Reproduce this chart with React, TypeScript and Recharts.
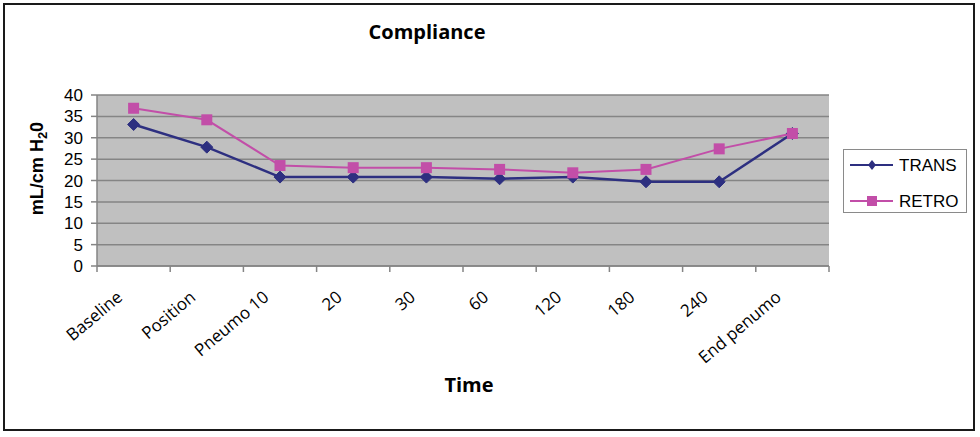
import React from "react";
import {
  LineChart,
  Line,
  XAxis,
  YAxis,
  CartesianGrid,
  Legend,
} from "recharts";

const categories = [
  "Baseline",
  "Position",
  "Pneumo 10",
  "20",
  "30",
  "60",
  "120",
  "180",
  "240",
  "End penumo",
];
const transValues = [33.1, 27.8, 20.8, 20.8, 20.8, 20.4, 20.8, 19.7, 19.7, 31.0];
const retroValues = [36.9, 34.2, 23.5, 23.0, 23.0, 22.6, 21.8, 22.6, 27.4, 31.0];
const yTicks = [0, 5, 10, 15, 20, 25, 30, 35, 40];

const data = categories.map((c, i) => ({
  name: c,
  TRANS: transValues[i],
  RETRO: retroValues[i],
}));

const W = 980;
const H = 437;
const PLOT_LEFT = 97;
const PLOT_RIGHT = 829;
const PLOT_TOP = 95;
const PLOT_BOTTOM = 266;
const HALF_BAND = (PLOT_RIGHT - PLOT_LEFT) / categories.length / 2;

const TRANS_COLOR = "#2D2F80";
const RETRO_COLOR = "#C24EA8";
const GRID_COLOR = "#858585";

const Diamond = (props: any) => {
  const { cx, cy } = props;
  if (cx == null || cy == null) return null;
  const r = 6;
  return (
    <path
      d={`M${cx},${cy - r} L${cx + r},${cy} L${cx},${cy + r} L${cx - r},${cy} Z`}
      fill={TRANS_COLOR}
      stroke={TRANS_COLOR}
    />
  );
};

const Square = (props: any) => {
  const { cx, cy } = props;
  if (cx == null || cy == null) return null;
  const r = 5.5;
  return (
    <rect x={cx - r} y={cy - r} width={r * 2} height={r * 2} fill={RETRO_COLOR} />
  );
};

const XTick = (props: any) => {
  const { x, y, payload, index } = props;
  const ax = x - 10;
  const ay = y + 33;
  const isLast = index === categories.length - 1;
  return (
    <g>
      <line x1={x - HALF_BAND} y1={y} x2={x - HALF_BAND} y2={y + 6} stroke={GRID_COLOR} strokeWidth={1.5} />
      {isLast && (
        <line x1={x + HALF_BAND} y1={y} x2={x + HALF_BAND} y2={y + 6} stroke={GRID_COLOR} strokeWidth={1.5} />
      )}
      <text
        x={ax}
        y={ay}
        textAnchor="end"
        transform={`rotate(-40, ${ax}, ${ay})`}
        fontFamily="'Open Sans', sans-serif"
        fontSize={17}
        fill="#000"
      >
        {payload.value}
      </text>
    </g>
  );
};

const YLabel = (props: any) => {
  const { viewBox } = props;
  const cx = 37;
  const cy = viewBox.y + viewBox.height / 2 - 12;
  return (
    <text
      x={cx}
      y={cy}
      textAnchor="middle"
      dominantBaseline="central"
      transform={`rotate(-90, ${cx}, ${cy})`}
      fontFamily="'Liberation Sans', Arial, sans-serif"
      fontWeight="bold"
      fontSize={18}
      fill="#000"
    >
      mL/cm H
      <tspan dy={5} fontSize={13}>2</tspan>
      <tspan dy={-5}>0</tspan>
    </text>
  );
};

const XLabel = () => {
  return (
    <text
      x={469}
      y={392}
      textAnchor="middle"
      fontFamily="'Open Sans', sans-serif"
      fontWeight="bold"
      fontSize={20}
      fill="#000"
    >
      Time
    </text>
  );
};

const LegendContent = () => {
  const items = [
    { name: "TRANS", color: TRANS_COLOR, shape: "diamond" },
    { name: "RETRO", color: RETRO_COLOR, shape: "square" },
  ];
  return (
    <div
      style={{
        width: 124,
        height: 64,
        border: "1px solid #8a8a8a",
        boxSizing: "border-box",
        background: "#fff",
      }}
    >
      <svg width={122} height={62}>
        {items.map((it, i) => {
          const y = 15 + i * 36;
          return (
            <g key={it.name}>
              <line x1={6} y1={y} x2={49} y2={y} stroke={it.color} strokeWidth={2} />
              {it.shape === "diamond" ? (
                <path d={`M28,${y - 5} L32,${y} L28,${y + 5} L24,${y} Z`} fill={it.color} />
              ) : (
                <rect x={23} y={y - 5} width={10} height={10} fill={it.color} />
              )}
              <text
                x={55}
                y={y + 6}
                fontFamily="'Liberation Sans', Arial, sans-serif"
                fontSize={17}
                fill="#000"
              >
                {it.name}
              </text>
            </g>
          );
        })}
      </svg>
    </div>
  );
};

export default function App() {
  return (
    <div
      style={{
        position: "absolute",
        left: 0,
        top: 0,
        width: W,
        height: H,
        background: "#fff",
        overflow: "hidden",
      }}
    >
      <div
        style={{
          position: "absolute",
          left: 3,
          top: 3,
          width: 968,
          height: 424,
          border: "2px solid #1a1a1a",
        }}
      />
      <div
        style={{
          position: "absolute",
          left: 0,
          top: 18,
          width: 854,
          textAlign: "center",
          fontFamily: "'Open Sans', sans-serif",
          fontWeight: "bold",
          fontSize: 20,
          color: "#000",
        }}
      >
        Compliance
      </div>
      <div style={{ position: "absolute", left: 0, top: 0 }}>
        <LineChart
          width={W}
          height={H}
          data={data}
          margin={{ top: PLOT_TOP, right: W - PLOT_RIGHT, bottom: 0, left: 0 }}
        >
          <CartesianGrid
            vertical={false}
            fill="#C0C0C0"
            stroke={GRID_COLOR}
            strokeWidth={1.5}
          />
          <XAxis
            dataKey="name"
            height={H - PLOT_BOTTOM}
            interval={0}
            padding={{ left: HALF_BAND, right: HALF_BAND }}
            tickLine={false}
            tickSize={0}
            tickMargin={0}
            axisLine={{ stroke: GRID_COLOR, strokeWidth: 1.5 }}
            tick={<XTick />}
            label={<XLabel />}
          />
          <YAxis
            width={PLOT_LEFT}
            domain={[0, 40]}
            ticks={yTicks}
            interval={0}
            tickSize={6}
            tickMargin={8}
            axisLine={{ stroke: GRID_COLOR, strokeWidth: 1.5 }}
            tickLine={{ stroke: GRID_COLOR, strokeWidth: 1.5 }}
            tick={{
              fill: "#000",
              fontSize: 17,
              fontFamily: "'Liberation Sans', Arial, sans-serif",
            }}
            label={<YLabel />}
          />
          <YAxis
            yAxisId="right"
            orientation="right"
            width={0}
            domain={[0, 40]}
            tick={false}
            tickLine={false}
            axisLine={{ stroke: GRID_COLOR, strokeWidth: 1.5 }}
          />
          <Legend
            layout="vertical"
            align="center"
            verticalAlign="middle"
            content={<LegendContent />}
            wrapperStyle={{ position: "absolute", left: 843, top: 149, width: 124, height: 64 }}
          />
          <Line
            dataKey="TRANS"
            stroke={TRANS_COLOR}
            strokeWidth={2.5}
            dot={<Diamond />}
            activeDot={false}
            isAnimationActive={false}
          />
          <Line
            dataKey="RETRO"
            stroke={RETRO_COLOR}
            strokeWidth={2}
            dot={<Square />}
            activeDot={false}
            isAnimationActive={false}
          />
        </LineChart>
      </div>
    </div>
  );
}
